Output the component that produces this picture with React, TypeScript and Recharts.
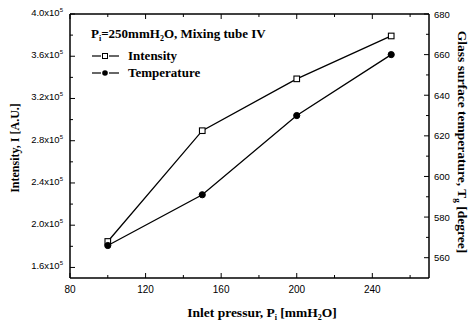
import React from 'react';
import { ComposedChart, Line, XAxis, YAxis, Customized } from 'recharts';

const pressure = [100, 150, 200, 250];
const intensity = [184600, 289500, 338600, 379200];
const temperature = [566, 591, 630, 660];

const xTicks = [80, 100, 120, 140, 160, 180, 200, 220, 240, 260];
const xMajor = [80, 120, 160, 200, 240];
const leftTicks = [160000, 180000, 200000, 220000, 240000, 260000, 280000, 300000, 320000, 340000, 360000, 380000, 400000];
const leftMajor = [160000, 200000, 240000, 280000, 320000, 360000, 400000];
const rightTicks = [560, 570, 580, 590, 600, 610, 620, 630, 640, 650, 660, 670, 680];
const rightMajor = [560, 580, 600, 620, 640, 660, 680];

const data = pressure.map((p, i) => ({ p, intensity: intensity[i], temperature: temperature[i] }));

const SANS = '"Liberation Sans", Arial, sans-serif';
const SERIF = '"Liberation Serif", "Times New Roman", serif';
const M = 4;

const LeftTick = (props: any) => {
  const { x, y, payload } = props;
  const v = payload.value;
  const major = leftMajor.includes(v);
  const ax = x + M;
  return (
    <g>
      <line x1={ax} x2={ax + (major ? 5 : 3)} y1={y} y2={y} stroke="#000" strokeWidth={1} />
      {major && (
        <text x={x - 3} y={y + 2} textAnchor="end" fontFamily={SANS} fontSize={9.5} fill="#000">
          <tspan>{(v / 100000).toFixed(1) + 'x10'}</tspan>
          <tspan dy={-4} fontSize={6}>5</tspan>
        </text>
      )}
    </g>
  );
};

const RightTick = (props: any) => {
  const { x, y, payload } = props;
  const v = payload.value;
  const major = rightMajor.includes(v);
  const ax = x - M;
  return (
    <g>
      <line x1={ax} x2={ax - (major ? 5 : 3)} y1={y} y2={y} stroke="#000" strokeWidth={1} />
      {major && (
        <text x={x + 1} y={y + 3.5} textAnchor="start" fontFamily={SANS} fontSize={9.5} fill="#000">
          {v}
        </text>
      )}
    </g>
  );
};

const BottomTick = (props: any) => {
  const { x, y, payload } = props;
  const v = payload.value;
  const major = xMajor.includes(v);
  const ay = y - M;
  return (
    <g>
      <line x1={x} x2={x} y1={ay} y2={ay - (major ? 5 : 3)} stroke="#000" strokeWidth={1} />
      {major && (
        <text x={x} y={y + 11} textAnchor="middle" fontFamily={SANS} fontSize={10} fill="#000">
          {v}
        </text>
      )}
    </g>
  );
};

const TopTick = (props: any) => {
  const { x, y, payload } = props;
  const v = payload.value;
  const major = xMajor.includes(v);
  const ay = y + M;
  return (
    <g>
      <line x1={x} x2={x} y1={ay} y2={ay + (major ? 5 : 3)} stroke="#000" strokeWidth={1} />
    </g>
  );
};

const SquareDot = (props: any) => {
  const { cx, cy } = props;
  if (cx == null || cy == null) return null;
  return <rect x={cx - 2.8} y={cy - 2.8} width={5.6} height={5.6} fill="#fff" stroke="#000" strokeWidth={1.1} />;
};

const CircleDot = (props: any) => {
  const { cx, cy } = props;
  if (cx == null || cy == null) return null;
  return <circle cx={cx} cy={cy} r={3.1} fill="#000" stroke="#000" />;
};

const Annotations = () => (
  <g>
    <text x={91} y={38} fontFamily={SERIF} fontWeight="bold" fontSize={13} fill="#000">
      <tspan>P</tspan>
      <tspan dy={3} fontSize={8}>i</tspan>
      <tspan dy={-3}>=250mmH</tspan>
      <tspan dy={3} fontSize={8}>2</tspan>
      <tspan dy={-3}>O, Mixing tube IV</tspan>
    </text>
    <line x1={92} x2={101} y1={56} y2={56} stroke="#000" strokeWidth={1.2} />
    <rect x={102.5} y={53.5} width={5} height={5} fill="#fff" stroke="#000" strokeWidth={1} />
    <line x1={109} x2={119} y1={56} y2={56} stroke="#000" strokeWidth={1.2} />
    <text x={128} y={60} fontFamily={SERIF} fontWeight="bold" fontSize={13} fill="#000">Intensity</text>
    <line x1={92} x2={101} y1={73} y2={73} stroke="#000" strokeWidth={1.2} />
    <circle cx={105} cy={73} r={2.8} fill="#000" />
    <line x1={109} x2={119} y1={73} y2={73} stroke="#000" strokeWidth={1.2} />
    <text x={128} y={77} fontFamily={SERIF} fontWeight="bold" fontSize={13} fill="#000">Temperature</text>

    <text transform="translate(19,148) rotate(-90)" textAnchor="middle" fontFamily={SERIF} fontWeight="bold" fontSize={12} fill="#000">
      Intensity, I [A.U.]
    </text>
    <text x={262} y={317} textAnchor="middle" fontFamily={SERIF} fontWeight="bold" fontSize={13.5} fill="#000">
      <tspan>Inlet pressur, P</tspan>
      <tspan dy={3} fontSize={8}>i</tspan>
      <tspan dy={-3}> [mmH</tspan>
      <tspan dy={3} fontSize={8}>2</tspan>
      <tspan dy={-3}>O]</tspan>
    </text>
    <text transform="translate(458,142) rotate(90)" textAnchor="middle" fontFamily={SERIF} fontWeight="bold" fontSize={13.5} fill="#000">
      <tspan>Glass surface temperature, T</tspan>
      <tspan dy={3} fontSize={9}>g</tspan>
      <tspan dy={-3}> [degree]</tspan>
    </text>
  </g>
);

export default function App() {
  return (
    <div style={{ position: 'absolute', left: 0, top: 0, width: 471, height: 324, background: '#fff' }}>
      <ComposedChart width={471} height={324} data={data} margin={{ top: 0, right: 0, bottom: 0, left: 0 }}>
        <XAxis
          xAxisId="b"
          dataKey="p"
          type="number"
          domain={[80, 270]}
          ticks={xTicks}
          interval={0}
          height={46}
          tickSize={0}
          tickMargin={M}
          tickLine={false}
          axisLine={{ stroke: '#000', strokeWidth: 1.5 }}
          tick={<BottomTick />}
        />
        <XAxis
          xAxisId="t"
          orientation="top"
          dataKey="p"
          type="number"
          domain={[80, 270]}
          ticks={xTicks}
          interval={0}
          height={14}
          tickSize={0}
          tickMargin={M}
          tickLine={false}
          axisLine={{ stroke: '#000', strokeWidth: 1.5 }}
          tick={<TopTick />}
        />
        <YAxis
          yAxisId="l"
          orientation="left"
          type="number"
          domain={[150000, 400000]}
          ticks={leftTicks}
          interval={0}
          width={70}
          tickSize={0}
          tickMargin={M}
          tickLine={false}
          axisLine={{ stroke: '#000', strokeWidth: 1.5 }}
          tick={<LeftTick />}
        />
        <YAxis
          yAxisId="r"
          orientation="right"
          type="number"
          domain={[550, 680]}
          ticks={rightTicks}
          interval={0}
          width={42}
          tickSize={0}
          tickMargin={M}
          tickLine={false}
          axisLine={{ stroke: '#000', strokeWidth: 1.5 }}
          tick={<RightTick />}
        />
        <Line
          xAxisId="b"
          yAxisId="l"
          type="linear"
          dataKey="intensity"
          stroke="#000"
          strokeWidth={1.3}
          dot={<SquareDot />}
          activeDot={false}
          isAnimationActive={false}
        />
        <Line
          xAxisId="b"
          yAxisId="r"
          type="linear"
          dataKey="temperature"
          stroke="#000"
          strokeWidth={1.3}
          dot={<CircleDot />}
          activeDot={false}
          isAnimationActive={false}
        />
        <Customized component={<Annotations />} />
      </ComposedChart>
    </div>
  );
}
